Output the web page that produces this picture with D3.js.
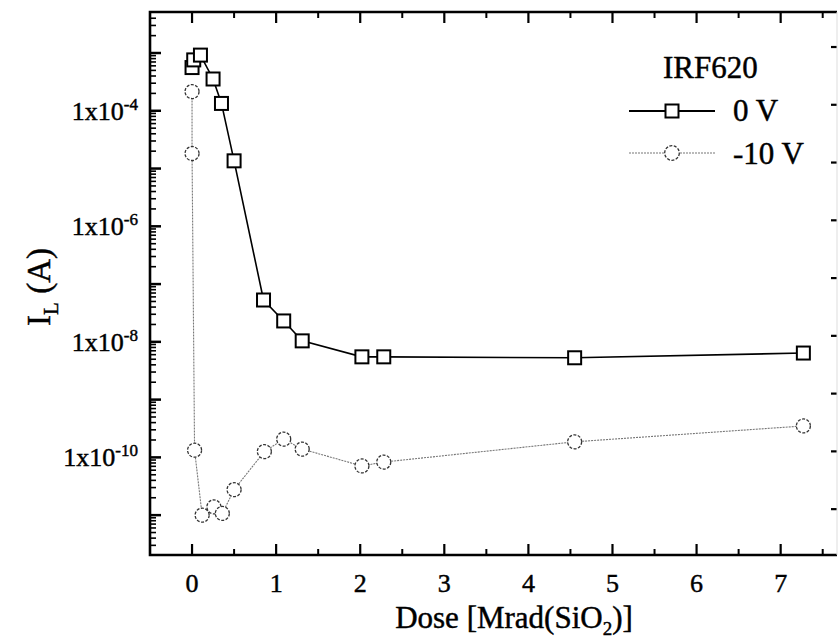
<!DOCTYPE html>
<html><head><meta charset="utf-8">
<script src="https://cdn.jsdelivr.net/npm/d3@7"></script>
<style>body{margin:0;background:#fff}svg{display:block}text{font-family:"Liberation Serif","Times New Roman",serif;fill:#000;stroke:#000;stroke-width:0.45px}</style>
</head><body>
<svg id="c" width="838" height="644"></svg>
<script>
// Data
const doseSq = [0, 0.02, 0.1, 0.25, 0.35, 0.5, 0.85, 1.09, 1.31, 2.02, 2.28, 4.55, 7.27];
const ilSq = [5.6e-4, 7.6e-4, 9.2e-4, 3.55e-4, 1.34e-4, 1.36e-5, 5.3e-8, 2.3e-8, 1.04e-8, 5.5e-9, 5.5e-9, 5.3e-9, 6.4e-9];
const doseCi = [0, 0, 0.03, 0.12, 0.26, 0.36, 0.5, 0.86, 1.09, 1.31, 2.02, 2.28, 4.55, 7.27];
const ilCi = [2.15e-4, 1.82e-5, 1.33e-10, 1.0e-11, 1.39e-11, 1.07e-11, 2.76e-11, 1.26e-10, 2.07e-10, 1.39e-10, 7.1e-11, 8.3e-11, 1.86e-10, 3.5e-10];
const xTicks = [0, 1, 2, 3, 4, 5, 6, 7];
const yLabelExps = [-4, -6, -8, -10];
const seriesNames = ["0 V", "-10 V"];
const legendTitle = "IRF620";

const svg = d3.select("#c");
const L = 150, R = 837, T = 12, B = 555;
const x = d3.scaleLinear().domain([-0.5, 7.67]).range([L, R]);
const y = d3.scaleLog().domain([Math.pow(10, -11.69), Math.pow(10, -2.29)]).range([B, T]);

// minor/major log ticks
const majors = d3.range(-11, -2).map(e => Math.pow(10, e));
const minors = [];
d3.range(-12, -2).forEach(e => { for (let k = 2; k <= 9; k++) { const v = k * Math.pow(10, e); if (y(v) > T + 1 && y(v) < B - 1) minors.push(v); } });

const g = svg.append("g").attr("stroke", "#000");
// left ticks
g.selectAll(".lmaj").data(majors).join("line").attr("x1", L).attr("x2", L + 11).attr("y1", d => y(d)).attr("y2", d => y(d)).attr("stroke-width", 2.5);
g.selectAll(".lmin").data(minors).join("line").attr("x1", L).attr("x2", L + 6).attr("y1", d => y(d)).attr("y2", d => y(d)).attr("stroke-width", 1.6);
// right ticks (majors only)
g.selectAll(".rmaj").data(majors).join("line").attr("x1", R - 6).attr("x2", R).attr("y1", d => y(d) - 6).attr("y2", d => y(d) - 6).attr("stroke-width", 2.2);
// bottom and top ticks
const xMinor = d3.range(0.5, 7.6, 1);
g.selectAll(".bmaj").data(xTicks).join("line").attr("x1", d => x(d)).attr("x2", d => x(d)).attr("y1", B).attr("y2", B - 11).attr("stroke-width", 2.2);
g.selectAll(".bmin").data(xMinor).join("line").attr("x1", d => x(d)).attr("x2", d => x(d)).attr("y1", B).attr("y2", B - 6).attr("stroke-width", 2);
g.selectAll(".tmaj").data(xTicks).join("line").attr("x1", d => x(d)).attr("x2", d => x(d)).attr("y1", T).attr("y2", T + 11).attr("stroke-width", 2.2);
g.selectAll(".tmin").data(xMinor).join("line").attr("x1", d => x(d)).attr("x2", d => x(d)).attr("y1", T).attr("y2", T + 6).attr("stroke-width", 2);
// frame
svg.append("path").attr("d", `M${R},${T}H${L}V${B}H${R}`).attr("fill", "none").attr("stroke", "#000").attr("stroke-width", 2.6);
svg.append("line").attr("x1", R).attr("x2", R).attr("y1", T).attr("y2", B).attr("stroke", "#ddd").attr("stroke-width", 1);

// x tick labels
svg.selectAll(".xl").data(xTicks).join("text").attr("x", d => x(d)).attr("y", 592).attr("text-anchor", "middle").attr("font-size", 26).text(d => d);
// y tick labels
const yl = svg.selectAll(".yl").data(yLabelExps).join("text").attr("x", 138).attr("y", d => y(Math.pow(10, d)) + 9).attr("text-anchor", "end").attr("font-size", 26);
yl.append("tspan").text("1x10");
yl.append("tspan").attr("dy", -10).attr("font-size", 17).text(d => "-" + (-d));

// axis titles
const xt = svg.append("text").attr("x", 514).attr("y", 628).attr("text-anchor", "middle").attr("font-size", 31);
xt.append("tspan").text("Dose [Mrad(SiO");
xt.append("tspan").attr("dy", 7).attr("font-size", 19).text("2");
xt.append("tspan").attr("dy", -7).text(")]");
const yt = svg.append("text").attr("transform", "translate(50,287) rotate(-90)").attr("text-anchor", "middle").attr("font-size", 33);
yt.append("tspan").text("I");
yt.append("tspan").attr("dy", 8).attr("font-size", 21).text("L");
yt.append("tspan").attr("dy", -8).text(" (A)");

// series
const sq = doseSq.map((d, i) => [d, ilSq[i]]);
const ci = doseCi.map((d, i) => [d, ilCi[i]]);
const line = d3.line().x(d => x(d[0])).y(d => y(d[1]));
svg.append("path").attr("d", line(ci)).attr("fill", "none").attr("stroke", "#777").attr("stroke-width", 1.1).attr("stroke-dasharray", "2,1");
svg.append("path").attr("d", line(sq)).attr("fill", "none").attr("stroke", "#000").attr("stroke-width", 1.6);
svg.selectAll(".ci").data(ci).join("circle").attr("cx", d => x(d[0])).attr("cy", d => y(d[1])).attr("r", 7).attr("fill", "#fff").attr("stroke", "#333").attr("stroke-width", 1.3).attr("stroke-dasharray", "3,1.5");
svg.selectAll(".sq").data(sq).join("rect").attr("x", d => x(d[0]) - 6.5).attr("y", d => y(d[1]) - 6.5).attr("width", 13).attr("height", 13).attr("fill", "#fff").attr("stroke", "#000").attr("stroke-width", 2);

// legend
svg.append("text").attr("x", 663).attr("y", 78).attr("font-size", 31).text(legendTitle);
const lg = svg.append("g");
lg.append("line").attr("x1", 629).attr("x2", 715).attr("y1", 111).attr("y2", 111).attr("stroke", "#000").attr("stroke-width", 1.8);
lg.append("rect").attr("x", 665.5).attr("y", 104.5).attr("width", 13).attr("height", 13).attr("fill", "#fff").attr("stroke", "#000").attr("stroke-width", 2);
lg.append("text").attr("x", 733).attr("y", 121).attr("font-size", 31).text(seriesNames[0]);
lg.append("line").attr("x1", 629).attr("x2", 715).attr("y1", 153).attr("y2", 153).attr("stroke", "#777").attr("stroke-width", 1.1).attr("stroke-dasharray", "2,1");
lg.append("circle").attr("cx", 672).attr("cy", 153).attr("r", 7.3).attr("fill", "#fff").attr("stroke", "#333").attr("stroke-width", 1.3).attr("stroke-dasharray", "3,1.5");
lg.append("text").attr("x", 733).attr("y", 164).attr("font-size", 31).text(seriesNames[1]);
</script>
</body></html>
